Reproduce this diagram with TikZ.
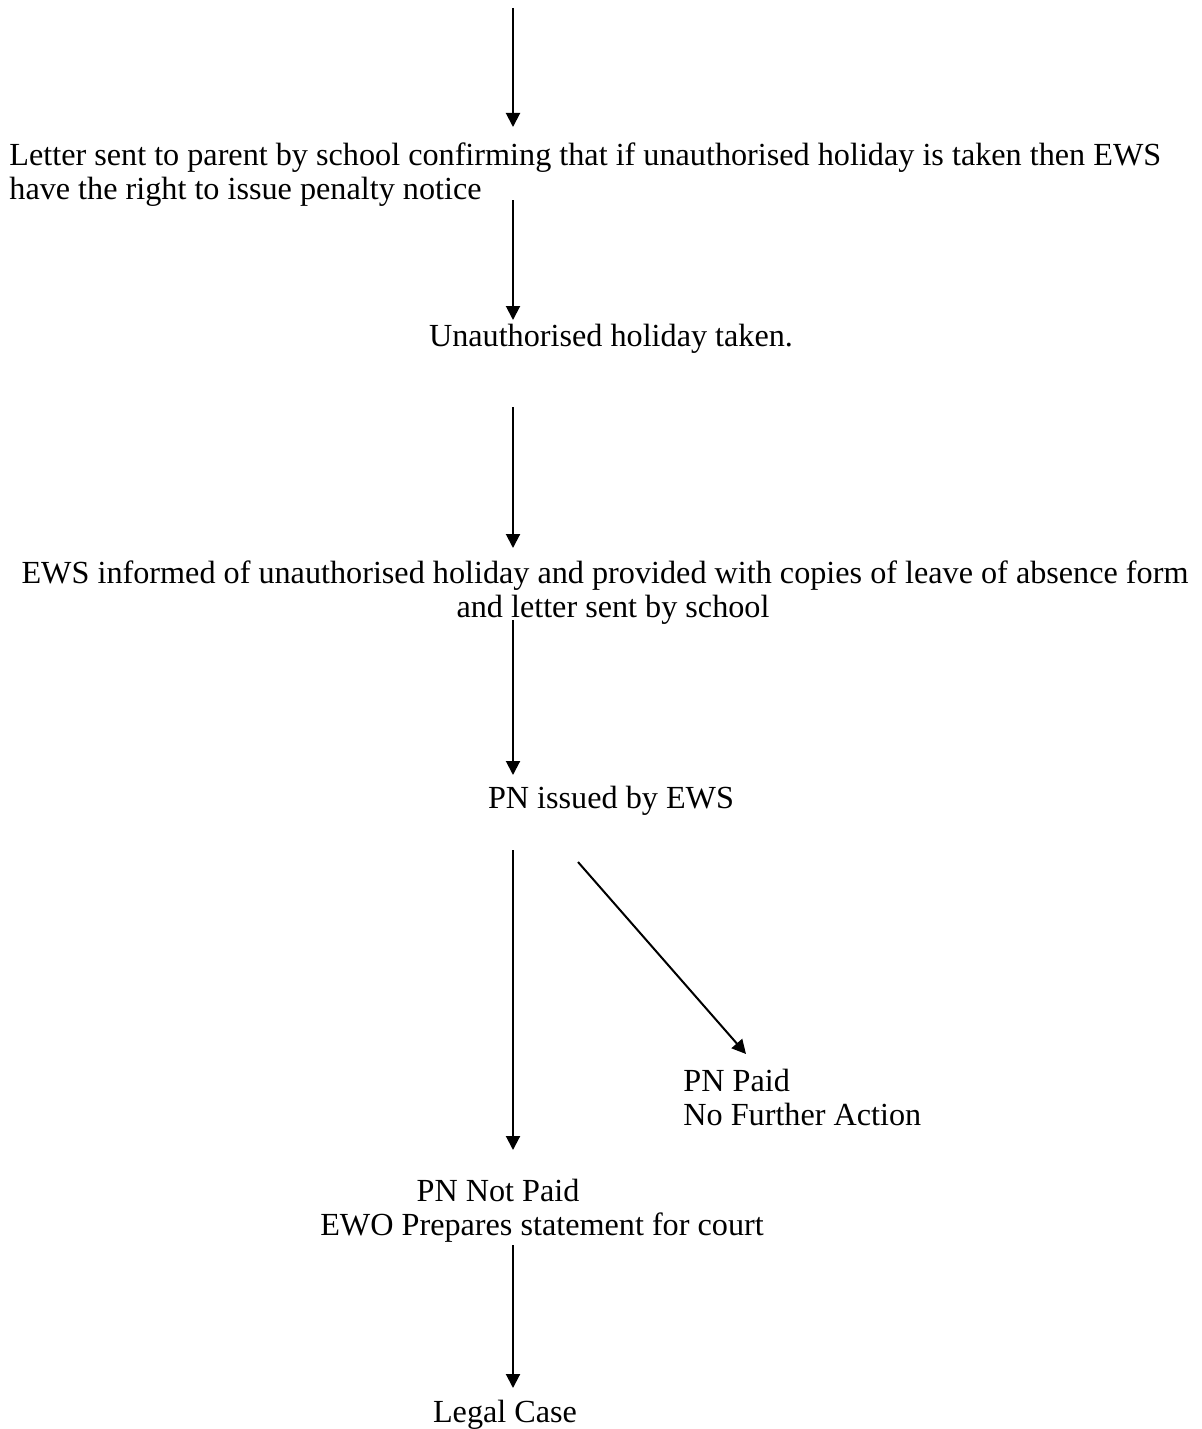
\documentclass[tikz,border=0pt]{standalone}
\usepackage{fontspec}
\setmainfont{Liberation Serif}
\usetikzlibrary{arrows.meta}
\begin{document}
\begin{tikzpicture}[x=0.5pt,y=-0.5pt,
  txt/.style={inner sep=0pt, font=\fontsize{16.1}{17}\selectfont},
  arr/.style={-{Triangle[length=7pt,width=7pt]}, line width=1pt}]
\useasboundingbox[fill=white] (0,0) rectangle (1202,1429);

% text blocks
\node[txt, anchor=base west] (letA) at (9,165) {Letter sent to parent by school confirming that if unauthorised holiday is taken then EWS};
\node[txt, anchor=base west] (letB) at (9,199) {have the right to issue penalty notice};
\node[txt, anchor=base] (taken) at (611,346) {Unauthorised holiday taken.};
\node[txt, anchor=base] (ewsA) at (605,583) {EWS informed of unauthorised holiday and provided with copies of leave of absence form};
\node[txt, anchor=base] (ewsB) at (613,617) {and letter sent by school};
\node[txt, anchor=base] (pnis) at (611,808) {PN issued by EWS};
\node[txt, anchor=base west] (paidA) at (683,1091) {PN Paid};
\node[txt, anchor=base west] (paidB) at (683,1125) {No Further Action};
\node[txt, anchor=base] (notA) at (498,1201) {PN Not Paid};
\node[txt, anchor=base] (notB) at (542,1235) {EWO Prepares statement for court};
\node[txt, anchor=base] (legal) at (505,1422) {Legal Case};

% connector end points
\coordinate (s1) at (513,8);    \coordinate (e1) at (513,127);
\coordinate (s2) at (513,200);  \coordinate (e2) at (513,320);
\coordinate (s3) at (513,407);  \coordinate (e3) at (513,548);
\coordinate (s4) at (513,620);  \coordinate (e4) at (513,775);
\coordinate (s5) at (513,850);  \coordinate (e5) at (513,1150);
\coordinate (s6) at (578,862);  \coordinate (e6) at (746,1054);
\coordinate (s7) at (513,1245); \coordinate (e7) at (513,1388);

\draw[arr] (s1) -- (e1);
\draw[arr] (s2) -- (e2);
\draw[arr] (s3) -- (e3);
\draw[arr] (s4) -- (e4);
\draw[arr] (s5) -- (e5);
\draw[arr] (s6) -- (e6);
\draw[arr] (s7) -- (e7);
\end{tikzpicture}
\end{document}
